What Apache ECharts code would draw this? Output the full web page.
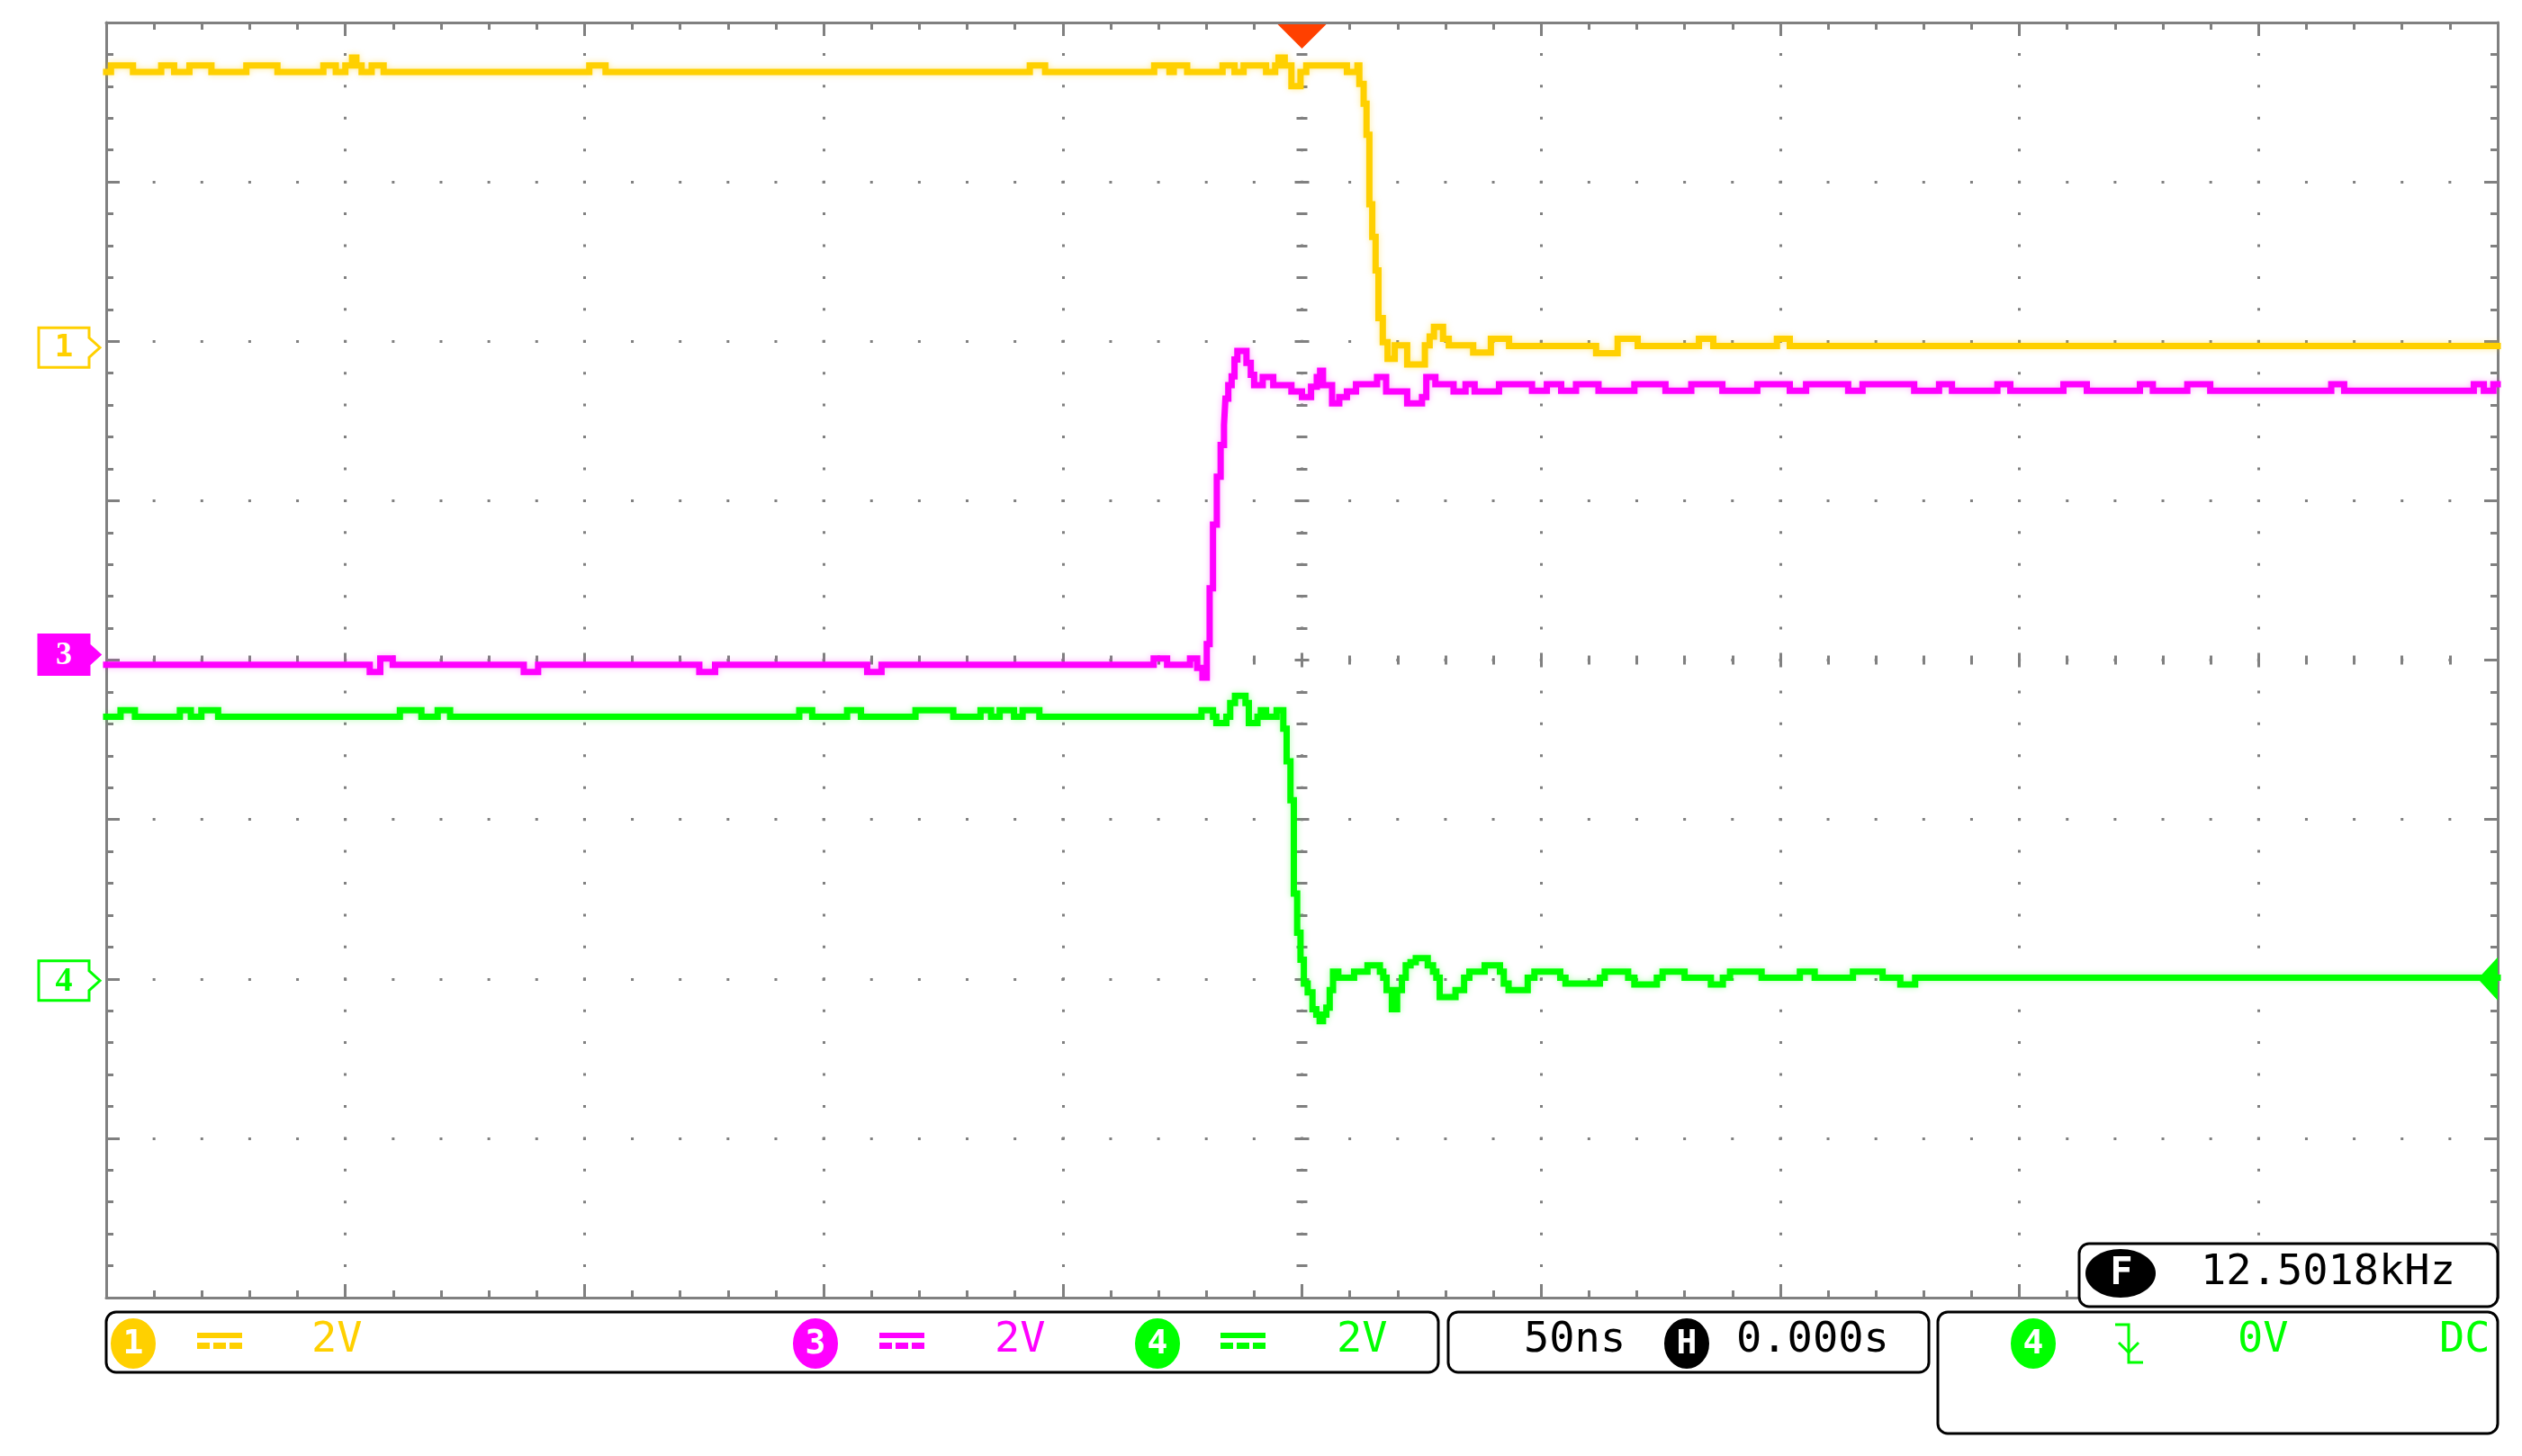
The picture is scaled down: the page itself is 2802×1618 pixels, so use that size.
<!DOCTYPE html>
<html>
<head>
<meta charset="utf-8">
<script src="https://cdn.jsdelivr.net/npm/echarts@6/dist/echarts.min.js"></script>
<style>
html,body{margin:0;padding:0;background:#ffffff;}
#chart{width:2802px;height:1618px;}
</style>
</head>
<body>
<div id="chart"></div>
<script>
// ---------------- DATA (time in ns, amplitude in volts) ----------------
// Timebase: 50 ns/div, 10 divisions, trigger at centre (H 0.000s)
const timeMinNs = -250;
const timeMaxNs = 250;
const nsPerDiv = 50;

// Channel 1 (yellow), 2 V/div
const ch1Time = [-250, -249.0, -244.4, -238.5, -235.8, -232.6, -228.0, -220.7, -214.2, -204.6, -202.0, -200.0, -198.6, -197.7, -196.6, -194.5, -192.0, -149.0, -145.6, -56.9, -53.7, -30.9, -27.7, -26.8, -24.0, -16.6, -14.1, -12.2, -7.5, -5.6, -4.9, -3.6, -2.2, -0.3, 0.9, 9.4, 11.6, 12.0, 12.9, 13.5, 14.1, 14.7, 15.4, 16.0, 16.9, 17.9, 19.4, 22.0, 25.7, 26.7, 27.6, 29.5, 30.7, 35.8, 39.5, 43.3, 61.5, 66.0, 70.2, 83.0, 86.0, 99.3, 102.0, 250];
const ch1Volts = [3.38, 3.46, 3.38, 3.46, 3.38, 3.46, 3.38, 3.46, 3.38, 3.46, 3.38, 3.46, 3.56, 3.46, 3.38, 3.46, 3.38, 3.46, 3.38, 3.46, 3.38, 3.46, 3.38, 3.46, 3.38, 3.46, 3.38, 3.46, 3.38, 3.46, 3.56, 3.46, 3.20, 3.38, 3.46, 3.38, 3.46, 3.23, 2.98, 2.59, 1.72, 1.31, 0.89, 0.29, -0.01, -0.22, -0.05, -0.29, -0.05, 0.06, 0.18, 0.03, -0.05, -0.14, 0.03, -0.06, -0.15, 0.03, -0.06, 0.03, -0.06, 0.03, -0.06, -0.06];

// Channel 3 (magenta), 2 V/div
const ch3Time = [-250, -194.9, -192.7, -190.1, -162.7, -159.7, -126.0, -122.7, -90.9, -87.9, -31.0, -28.2, -23.4, -21.9, -20.8, -19.9, -19.3, -18.6, -17.8, -17.0, -16.3, -16.0, -15.4, -14.7, -14.1, -13.5, -11.6, -10.7, -10.0, -8.2, -6.0, -2.2, 0, 1.9, 3.1, 3.8, 4.4, 6.3, 7.8, 9.4, 11.3, 15.7, 17.6, 22.0, 25.1, 26.0, 27.9, 31.7, 34.2, 36.1, 41.2, 48.1, 51.2, 54.2, 57.3, 62.0, 69.5, 76.0, 81.4, 87.9, 95.2, 102.0, 105.4, 114.2, 117.2, 128.0, 133.2, 135.9, 145.4, 148.1, 159.2, 164.1, 175.2, 177.9, 185.1, 189.9, 215.2, 217.9, 245.0, 247.1, 249.1, 250];
const ch3Volts = [-0.06, -0.15, 0.02, -0.06, -0.15, -0.06, -0.15, -0.06, -0.15, -0.06, 0.02, -0.06, 0.02, -0.10, -0.22, 0.20, 0.90, 1.70, 2.30, 2.70, 2.95, 3.28, 3.45, 3.56, 3.77, 3.88, 3.73, 3.58, 3.45, 3.55, 3.45, 3.37, 3.30, 3.43, 3.55, 3.63, 3.45, 3.22, 3.30, 3.37, 3.46, 3.55, 3.37, 3.22, 3.30, 3.55, 3.46, 3.37, 3.46, 3.37, 3.46, 3.38, 3.46, 3.38, 3.46, 3.38, 3.46, 3.38, 3.46, 3.38, 3.46, 3.38, 3.46, 3.38, 3.46, 3.38, 3.46, 3.38, 3.46, 3.38, 3.46, 3.38, 3.46, 3.38, 3.46, 3.38, 3.46, 3.38, 3.46, 3.38, 3.46, 3.46];

// Channel 4 (green), 2 V/div
const ch4Time = [-250, -247.0, -244.0, -234.6, -232.3, -230.1, -226.6, -188.6, -184.1, -180.7, -178.1, -105.1, -102.4, -95.1, -92.2, -80.8, -72.9, -67.2, -65.0, -63.2, -60.2, -58.4, -54.9, -21.0, -18.6, -17.9, -15.8, -15.0, -14.0, -11.8, -11.1, -9.3, -8.6, -7.5, -5.3, -3.9, -3.2, -2.4, -1.7, -1.0, -0.3, 0.4, 1.2, 2.2, 3.0, 3.7, 4.4, 5.1, 5.8, 6.5, 7.6, 10.9, 13.7, 16.3, 17.0, 17.7, 18.8, 19.9, 20.9, 21.7, 22.7, 23.8, 26.3, 27.4, 28.1, 28.8, 32.1, 33.9, 35.0, 38.2, 41.4, 42.2, 43.2, 47.2, 48.6, 54.0, 55.1, 62.3, 63.3, 68.2, 69.5, 74.2, 75.4, 80.0, 85.5, 88.0, 89.5, 96.1, 104.1, 107.2, 115.2, 121.4, 125.1, 128.2, 250];
const ch4Volts = [3.29, 3.37, 3.29, 3.37, 3.29, 3.37, 3.29, 3.37, 3.29, 3.37, 3.29, 3.37, 3.29, 3.37, 3.29, 3.37, 3.29, 3.37, 3.29, 3.37, 3.29, 3.37, 3.29, 3.37, 3.29, 3.21, 3.29, 3.46, 3.55, 3.46, 3.21, 3.29, 3.37, 3.29, 3.37, 3.14, 2.73, 2.24, 1.07, 0.58, 0.24, -0.06, -0.17, -0.38, -0.45, -0.53, -0.45, -0.36, -0.14, 0.09, 0.015, 0.09, 0.17, 0.09, 0.015, -0.14, -0.38, -0.14, 0.015, 0.17, 0.21, 0.26, 0.17, 0.09, 0.015, -0.23, -0.14, 0.015, 0.09, 0.17, 0.09, -0.06, -0.14, 0.015, 0.09, 0.015, -0.06, 0.015, 0.09, 0.015, -0.07, 0.015, 0.09, 0.015, -0.07, 0.015, 0.09, 0.015, 0.09, 0.015, 0.09, 0.015, -0.07, 0.015, 0.015];

// Vertical scale / offsets (divisions from centre) per channel
const voltsPerDiv = 2;
const ch1GroundDiv = 2;
const ch3GroundDiv = 0;
const ch4GroundDiv = -2;
const triggerLevelVolts = 0;

// Status-bar texts
const ch1Scale = '2V', ch3Scale = '2V', ch4Scale = '2V';
const timebaseText = '50ns';
const hPosText = '0.000s';
const trigLevelText = '0V';
const trigCouplingText = 'DC';
const freqText = '12.5018kHz';

// ---------------- STYLE ----------------
const C1 = '#FFD000', C3 = '#FF00FF', C4 = '#00FF00', GRAY = '#808080';
const GRID = {left: 118, top: 25, width: 2657, height: 1417};
const MINOR_X = GRID.width / 10 / 5;
const MINOR_Y = GRID.height / 8 / 5;
const MONO = '"DejaVu Sans Mono", "Liberation Mono", monospace';

function pairs(t, v) { return t.map((x, i) => [x, v[i]]); }
function chRange(groundDiv) { return {min: (-4 - groundDiv) * voltsPerDiv, max: (4 - groundDiv) * voltsPerDiv}; }

const xBase = {type: 'value', min: timeMinNs, max: timeMaxNs, interval: nsPerDiv,
  axisLabel: {show: false}, splitLine: {show: false}};
const yBase = {type: 'value', min: -4, max: 4, interval: 1,
  axisLabel: {show: false}, splitLine: {show: false}};
const borderLine = {show: true, onZero: false, lineStyle: {color: GRAY, width: 3}};
const noLine = {show: false, onZero: false};
const tick = (inside, len) => ({show: true, inside: inside, length: len, lineStyle: {color: GRAY, width: 3}});
const mtick = (len) => ({show: true, splitNumber: 5, length: len, lineStyle: {color: GRAY, width: 3}});

function traceStyle(color, glow) {
  return {color: color, width: 7, shadowColor: glow, shadowBlur: 7, cap: 'square', join: 'miter'};
}

const option = {
  backgroundColor: '#ffffff',
  animation: false,
  grid: {left: GRID.left, top: GRID.top, width: GRID.width, height: GRID.height, containLabel: false, outerBoundsMode: 'none', show: false},
  xAxis: [
    Object.assign({}, xBase, {position: 'bottom', axisLine: borderLine, axisTick: tick(true, 15), minorTick: mtick(8),
      splitLine: {show: true, lineStyle: {color: GRAY, width: 3, type: [3, MINOR_Y - 3], dashOffset: 1.5}}}),
    Object.assign({}, xBase, {position: 'top', axisLine: borderLine, axisTick: tick(true, 15), minorTick: mtick(8)}),
    Object.assign({}, xBase, {position: 'bottom', offset: -GRID.height / 2, axisLine: noLine, axisTick: tick(true, 8), minorTick: mtick(5)}),
    Object.assign({}, xBase, {position: 'bottom', offset: -GRID.height / 2, axisLine: noLine, axisTick: tick(false, 8), minorTick: mtick(5)})
  ],
  yAxis: [
    Object.assign({}, yBase, {position: 'left', axisLine: borderLine, axisTick: tick(true, 15), minorTick: mtick(8),
      splitLine: {show: true, lineStyle: {color: GRAY, width: 3, type: [3, MINOR_X - 3], dashOffset: 1.5}}}),
    Object.assign({}, yBase, {position: 'right', axisLine: borderLine, axisTick: tick(true, 15), minorTick: mtick(8)}),
    Object.assign({}, yBase, {position: 'left', offset: -GRID.width / 2, axisLine: noLine, axisTick: tick(true, 8), minorTick: mtick(6)}),
    Object.assign({}, yBase, {position: 'left', offset: -GRID.width / 2, axisLine: noLine, axisTick: tick(false, 8), minorTick: mtick(6)}),
    Object.assign({type: 'value', show: false, axisLine: {onZero: false}}, chRange(ch1GroundDiv)),
    Object.assign({type: 'value', show: false, axisLine: {onZero: false}}, chRange(ch3GroundDiv)),
    Object.assign({type: 'value', show: false, axisLine: {onZero: false}}, chRange(ch4GroundDiv))
  ],
  series: [
    {name: 'CH1', type: 'line', xAxisIndex: 0, yAxisIndex: 4, step: 'end', showSymbol: false, symbol: 'none', z: 5,
     data: pairs(ch1Time, ch1Volts), lineStyle: traceStyle(C1, 'rgba(255,208,0,0.4)')},
    {name: 'CH3', type: 'line', xAxisIndex: 0, yAxisIndex: 5, step: 'end', showSymbol: false, symbol: 'none', z: 5,
     data: pairs(ch3Time, ch3Volts), lineStyle: traceStyle(C3, 'rgba(255,0,255,0.3)')},
    {name: 'CH4', type: 'line', xAxisIndex: 0, yAxisIndex: 6, step: 'end', showSymbol: false, symbol: 'none', z: 5,
     data: pairs(ch4Time, ch4Volts), lineStyle: traceStyle(C4, 'rgba(0,255,0,0.3)')}
  ]
};

const chart = echarts.init(document.getElementById('chart'), null, {renderer: 'canvas'});
chart.setOption(option);

// ---------------- annotations ----------------
const px = (xi, yi, v) => chart.convertToPixel({xAxisIndex: xi, yAxisIndex: yi}, v);
const trigX = px(0, 0, [0, 0])[0];
const topY = GRID.top, rightX = GRID.left + GRID.width;
const g1 = px(0, 4, [0, 0])[1] + 7;
const g3 = px(0, 5, [0, 0])[1] - 6;
const g4 = px(0, 6, [0, 0])[1] + 2;
const trigY = px(0, 6, [0, triggerLevelVolts])[1];

function marker(cy, color, label, filled, font) {
  const pts = [[43, cy - 22], [99, cy - 22], [99, cy - 11], [111, cy], [99, cy + 11], [99, cy + 22], [43, cy + 22]];
  return [
    {type: 'polygon', z: 20, shape: {points: pts},
     style: {fill: filled ? color : '#ffffff', stroke: color, lineWidth: 3}},
    {type: 'text', z: 21, style: {x: 71, y: cy + 1, text: label, font: font, fill: filled ? '#ffffff' : color, align: 'center', verticalAlign: 'middle'}}
  ];
}
function circled(cx, color, label, textColor) {
  return [
    {type: 'ellipse', z: 20, shape: {cx: cx, cy: 1493, rx: 24, ry: 27}, style: {fill: color, stroke: color, lineWidth: 2}},
    {type: 'text', z: 21, style: {x: cx, y: 1494, text: label, font: 'bold 38px ' + MONO, fill: textColor || '#ffffff', align: 'center', verticalAlign: 'middle'}}
  ];
}
function dcSym(x, color) {
  return [
    {type: 'rect', z: 20, shape: {x: x, y: 1481, width: 50, height: 6}, style: {fill: color}},
    {type: 'rect', z: 20, shape: {x: x, y: 1492, width: 14, height: 7}, style: {fill: color}},
    {type: 'rect', z: 20, shape: {x: x + 18, y: 1492, width: 14, height: 7}, style: {fill: color}},
    {type: 'rect', z: 20, shape: {x: x + 36, y: 1492, width: 14, height: 7}, style: {fill: color}}
  ];
}
function txt(x, y, s, color, size) {
  return {type: 'text', z: 21, style: {x: x, y: y, text: s, font: (size || 47) + 'px ' + MONO, fill: color, align: 'left', verticalAlign: 'middle'}};
}
function box(x, y, w, h) {
  return {type: 'rect', z: 19, shape: {x: x, y: y, width: w, height: h, r: 11}, style: {fill: '#ffffff', stroke: '#000000', lineWidth: 3}};
}

const elems = [].concat(
  [{type: 'polygon', z: 20, shape: {points: [[trigX - 27, topY + 2], [trigX + 27, topY + 2], [trigX, topY + 29]]}, style: {fill: '#FF4000'}}],
  [{type: 'polygon', z: 20, shape: {points: [[rightX - 22, trigY], [rightX, trigY - 24], [rightX, trigY + 24]]}, style: {fill: C4}}],
  marker(g1, C1, '1', false, 'bold 34px ' + MONO),
  marker(g3, C3, '3', true, 'bold 36px "Liberation Serif", serif'),
  marker(g4, C4, '4', false, 'bold 38px "Liberation Serif", serif'),
  [box(118, 1458, 1480, 67), box(1609, 1458, 534, 67), box(2153, 1458, 622, 135), box(2310, 1382, 465, 70)],
  circled(148, C1, '1'), dcSym(219, C1), [txt(346, 1490, ch1Scale, C1)],
  circled(906, C3, '3'), dcSym(977, C3), [txt(1105, 1490, ch3Scale, C3)],
  circled(1286, C4, '4'), dcSym(1356, C4), [txt(1485, 1490, ch4Scale, C4)],
  [txt(1693, 1490, timebaseText, '#000000')],
  circled(1874, '#000000', 'H'),
  [txt(1929, 1490, hPosText, '#000000')],
  circled(2259, C4, '4'),
  [{type: 'polyline', z: 20, shape: {points: [[2350, 1472], [2365, 1472], [2365, 1514], [2381, 1514]]}, style: {stroke: C4, lineWidth: 3, fill: null}},
   {type: 'polyline', z: 20, shape: {points: [[2354, 1492], [2365, 1503], [2376, 1492]]}, style: {stroke: C4, lineWidth: 3, fill: null}}],
  [txt(2486, 1490, trigLevelText, C4), txt(2710, 1490, trigCouplingText, C4)],
  [{type: 'ellipse', z: 20, shape: {cx: 2356, cy: 1415, rx: 39, ry: 27}, style: {fill: '#000000'}},
   {type: 'text', z: 21, style: {x: 2357, y: 1416, text: 'F', font: 'bold 42px ' + MONO, fill: '#ffffff', align: 'center', verticalAlign: 'middle'}},
   txt(2445, 1415, freqText, '#000000')]
);
chart.setOption({graphic: {elements: elems}});
</script>
</body>
</html>
